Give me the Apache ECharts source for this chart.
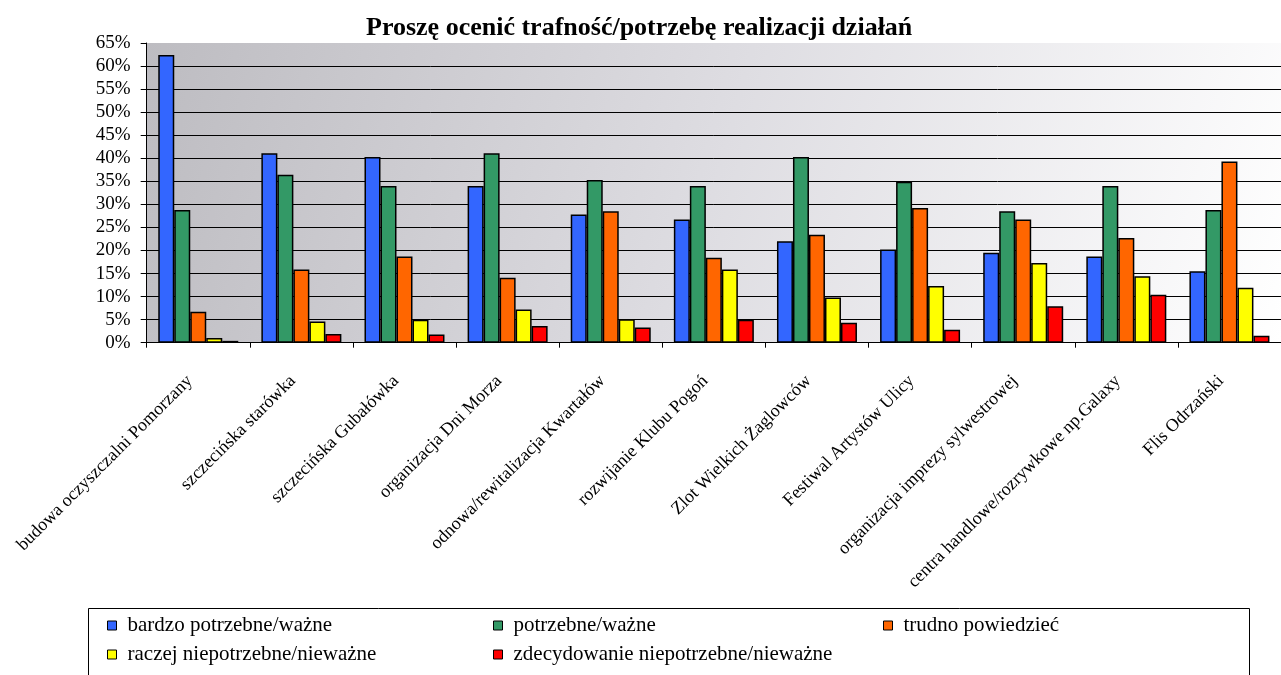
<!DOCTYPE html>
<html>
<head>
<meta charset="utf-8">
<script src="https://cdn.jsdelivr.net/npm/echarts@6/dist/echarts.min.js"></script>
<style>
  html, body { margin: 0; padding: 0; background: #ffffff; }
  #chart { width: 1281px; height: 675px; }
</style>
</head>
<body>
<div id="chart"></div>
<script>
// Survey: how relevant / needed is each initiative (share of answers, %)
const categories = [
  'budowa oczyszczalni Pomorzany',
  'szczecińska starówka',
  'szczecińska Gubałówka',
  'organizacja Dni Morza',
  'odnowa/rewitalizacja Kwartałów',
  'rozwijanie Klubu Pogoń',
  'Zlot Wielkich Żaglowców',
  'Festiwal Artystów Ulicy',
  'organizacja imprezy sylwestrowej',
  'centra handlowe/rozrywkowe np.Galaxy',
  'Flis Odrzański'
];

const seriesNames = [
  'bardzo potrzebne/ważne',
  'potrzebne/ważne',
  'trudno powiedzieć',
  'raczej niepotrzebne/nieważne',
  'zdecydowanie niepotrzebne/nieważne'
];

const veryNeeded     = [62.4, 41.1, 40.3, 34.0, 27.8, 26.7, 22.0, 20.2, 19.5, 18.7, 15.5];
const needed         = [28.8, 36.4, 34.0, 41.1, 35.3, 34.0, 40.3, 34.9, 28.5, 34.0, 28.8];
const hardToSay      = [6.7, 15.9, 18.7, 14.1, 28.5, 18.4, 23.4, 29.2, 26.7, 22.7, 39.3];
const ratherNot      = [1.0, 4.6, 5.0, 7.2, 5.1, 15.9, 9.8, 12.3, 17.3, 14.4, 11.9];
const definitelyNot  = [0.4, 1.9, 1.8, 3.6, 3.3, 5.0, 4.3, 2.8, 7.9, 10.4, 1.5];

const seriesValues = [veryNeeded, needed, hardToSay, ratherNot, definitelyNot];
const seriesColors = ['#3366ff', '#339966', '#ff6600', '#ffff00', '#ff0000'];

const yTicks = { min: 0, max: 65, interval: 5 };

const serif = 'Liberation Serif';

// legend laid out in three columns (1 & 4, 2 & 5, 3)
const legendColumns = [
  { left: 107, names: [seriesNames[0], seriesNames[3]] },
  { left: 493, names: [seriesNames[1], seriesNames[4]] },
  { left: 883, names: [seriesNames[2]] }
];

const chart = echarts.init(document.getElementById('chart'), null, { renderer: 'canvas' });

chart.setOption({
  animation: false,
  backgroundColor: '#ffffff',
  textStyle: { fontFamily: serif, color: '#000' },
  title: {
    text: 'Proszę ocenić trafność/potrzebę realizacji działań',
    left: 366,
    top: 15,
    padding: 0,
    textStyle: { fontFamily: serif, fontSize: 26, fontWeight: 'bold', color: '#000' }
  },
  grid: {
    left: 146.7,
    top: 43,
    right: -6.7,
    bottom: 332.3,
    show: true,
    borderWidth: 0,
    backgroundColor: new echarts.graphic.LinearGradient(0, 0, 1, 1, [
      { offset: 0, color: '#bdbcc1' },
      { offset: 0.5, color: '#dedde2' },
      { offset: 1, color: '#ffffff' }
    ])
  },
  legend: legendColumns.map(col => ({
    data: col.names,
    orient: 'vertical',
    left: col.left,
    top: 615,
    padding: 0,
    itemGap: 8,
    itemWidth: 9,
    itemHeight: 9,
    icon: 'rect',
    itemStyle: { borderColor: '#000', borderWidth: 1 },
    textStyle: { fontFamily: serif, fontSize: 21, color: '#000', padding: [0, 0, 0, 6] }
  })),
  graphic: [{
    type: 'rect',
    left: 86,
    top: 606,
    shape: { width: 1161, height: 100 },
    style: { fill: 'none', stroke: '#000', lineWidth: 1 },
    silent: true
  }],
  xAxis: {
    type: 'category',
    data: categories,
    boundaryGap: true,
    axisLine: { show: true, lineStyle: { color: '#000', width: 1 } },
    axisTick: { show: true, length: 5, lineStyle: { color: '#000' } },
    axisLabel: {
      interval: 0,
      rotate: 45,
      margin: 27,
      padding: [0, 12, 0, 0],
      fontFamily: serif,
      fontSize: 18,
      color: '#000'
    },
    splitLine: { show: false }
  },
  yAxis: {
    type: 'value',
    min: yTicks.min,
    max: yTicks.max,
    interval: yTicks.interval,
    axisLine: { show: true, lineStyle: { color: '#000', width: 1 } },
    axisTick: { show: true, inside: false, length: 6, lineStyle: { color: '#000' } },
    axisLabel: {
      formatter: '{value}%',
      margin: 16,
      fontFamily: serif,
      fontSize: 19,
      color: '#000'
    },
    splitLine: {
      show: true,
      showMaxLine: false,
      lineStyle: { color: '#000', width: 1 }
    }
  },
  series: seriesNames.map((name, i) => ({
    name: name,
    type: 'bar',
    data: seriesValues[i],
    barWidth: 16,
    barGap: '0%',
    itemStyle: { color: seriesColors[i], borderColor: '#000', borderWidth: 1.5 }
  }))
});
</script>
</body>
</html>
